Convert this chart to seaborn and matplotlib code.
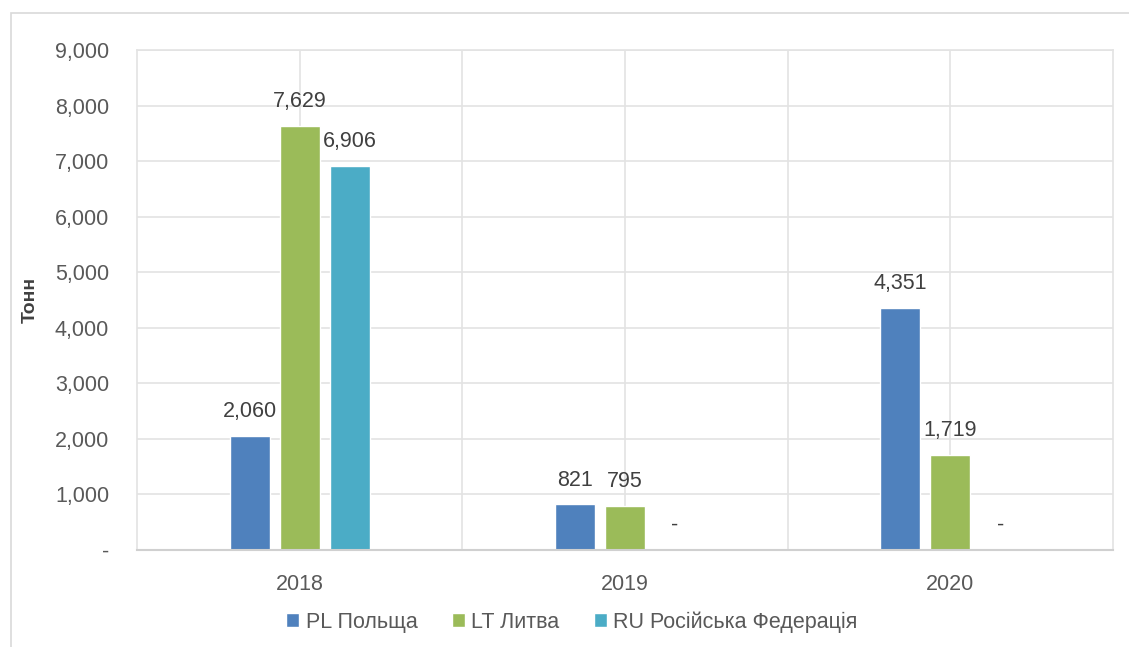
import pandas as pd
import matplotlib.pyplot as plt
import matplotlib.ticker as mticker
import seaborn as sns
from matplotlib.patches import Rectangle

# data
years = ['2018', '2019', '2020']
series = ['PL Польща', 'LT Литва', 'RU Російська Федерація']
pl_values = [2060, 821, 4351]
lt_values = [7629, 795, 1719]
ru_values = [6906, 0, 0]
colors = ['#4F81BD', '#9BBB59', '#4BACC6']

df = pd.DataFrame({
    'year': years * 3,
    'country': [s for s in series for _ in years],
    'tons': pl_values + lt_values + ru_values,
})

sns.set_style('white')
plt.rcParams['font.family'] = ['Liberation Sans', 'DejaVu Sans']

fig = plt.figure(figsize=(11.29, 6.47), dpi=100)
ax = fig.add_axes([137 / 1129, 97 / 647, 976 / 1129, 500 / 647])

# outer chart frame
fig.patches.append(Rectangle((11 / 1129, -0.1), 1.2, (647 - 13) / 647 + 0.1,
                             transform=fig.transFigure, fill=False,
                             edgecolor='#d9d9d9', linewidth=1.2))

sns.barplot(data=df, x='year', y='tons', hue='country', palette=colors,
            width=0.46, gap=0.2, saturation=1, ax=ax, legend=True)

for cont in ax.containers:
    labels = ['-' if v == 0 else f'{v:,.0f}' for v in cont.datavalues]
    ax.bar_label(cont, labels=labels, padding=10, fontsize=15.5, color='#404040')

ax.set_ylim(0, 9000)
ax.set_xlim(-0.5, 2.5)
ax.yaxis.set_major_locator(mticker.MultipleLocator(1000))
ax.yaxis.set_major_formatter(mticker.FuncFormatter(lambda v, p: '-' if v == 0 else f'{v:,.0f}'))
ax.set_xticks([0, 1, 2])
ax.set_xticks([0.5, 1.5], minor=True)

ax.grid(True, which='major', color='#e3e3e3', linewidth=1.2)
ax.grid(True, which='minor', axis='x', color='#e3e3e3', linewidth=1.2)
ax.set_axisbelow(True)
for side in ['left', 'right', 'top']:
    ax.spines[side].set_color('#e3e3e3')
    ax.spines[side].set_linewidth(1.2)
ax.spines['bottom'].set_color('#d0d0d0')
ax.spines['bottom'].set_linewidth(1.5)

ax.tick_params(axis='y', length=0, pad=20, labelsize=15.5, labelcolor='#595959')
ax.tick_params(axis='x', which='both', length=0, pad=17, labelsize=15.5, labelcolor='#595959')

ax.set_xlabel('')
ax.set_ylabel('Тонн', fontsize=14, fontweight='bold', color='#404040')
ax.yaxis.set_label_coords(-0.101, 0.5)

handles, labs = ax.get_legend_handles_labels()
ax.legend(handles, labs, loc='center', bbox_to_anchor=(572 / 1129, 25 / 647),
          bbox_transform=fig.transFigure, ncol=3, frameon=False, fontsize=15.5,
          labelcolor='#595959', handlelength=0.6, handleheight=0.6,
          handletextpad=0.3, columnspacing=1.6)

fig.savefig('out.png', dpi=100)
